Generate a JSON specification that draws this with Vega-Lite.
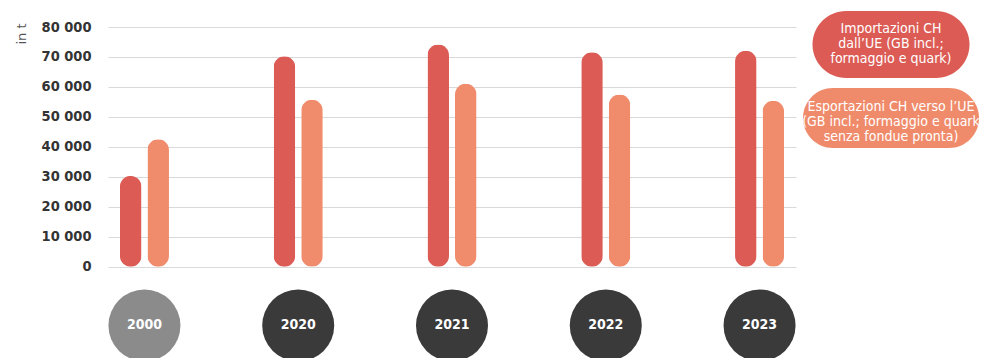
{
  "$schema": "https://vega.github.io/schema/vega-lite/v6.json",
  "background": "white",
  "padding": {"left": 15, "top": 10, "right": 0, "bottom": 0},
  "bounds": "flush",
  "spacing": 5,
  "config": {"view": {"stroke": null}, "font": "DejaVu Sans Condensed"},
  "datasets": {
    "trade": [
      {"year": "2000", "series": "Importazioni", "value": 30300},
      {"year": "2000", "series": "Esportazioni", "value": 42500},
      {"year": "2020", "series": "Importazioni", "value": 70200},
      {"year": "2020", "series": "Esportazioni", "value": 55700},
      {"year": "2021", "series": "Importazioni", "value": 74200},
      {"year": "2021", "series": "Esportazioni", "value": 61100},
      {"year": "2022", "series": "Importazioni", "value": 71600},
      {"year": "2022", "series": "Esportazioni", "value": 57500},
      {"year": "2023", "series": "Importazioni", "value": 72100},
      {"year": "2023", "series": "Esportazioni", "value": 55400}
    ],
    "years": [
      {"year": "2000"}, {"year": "2020"}, {"year": "2021"}, {"year": "2022"}, {"year": "2023"}
    ],
    "legend": [
      {"series": "Importazioni", "label": ["Importazioni CH", "dall’UE (GB incl.;", "formaggio e quark)"]},
      {"series": "Esportazioni", "label": ["Esportazioni CH verso l’UE", "(GB incl.; formaggio e quark", "senza fondue pronta)"]}
    ]
  },
  "hconcat": [
    {
      "width": 688,
      "height": 332,
      "layer": [
        {
          "data": {"name": "trade"},
          "mark": {"type": "bar", "cornerRadius": 10.75},
          "encoding": {
            "x": {"field": "year", "type": "nominal", "scale": {"paddingInner": 0.642, "paddingOuter": 0.058}, "axis": null},
            "xOffset": {"field": "series", "type": "nominal", "sort": ["Importazioni", "Esportazioni"], "scale": {"paddingInner": 0.218, "paddingOuter": 0.109}},
            "y": {
              "field": "value", "type": "quantitative",
              "scale": {"domain": [-30800, 80000], "nice": false, "zero": false},
              "axis": {
                "title": "in t",
                "values": [0, 10000, 20000, 30000, 40000, 50000, 60000, 70000, 80000],
                "labelExpr": "replace(format(datum.value, ','), ',', ' ')",
                "labelFont": "DejaVu Sans Condensed",
                "labelFontWeight": "bold",
                "labelFontSize": 14.5,
                "labelColor": "#333333",
                "labelPadding": 17,
                "ticks": false,
                "domain": false,
                "grid": true,
                "gridColor": "#d9d9d9",
                "gridWidth": 1,
                "titleFont": "DejaVu Sans",
                "titleFontSize": 13,
                "titleFontWeight": "normal",
                "titleColor": "#555555",
                "titleAngle": -90,
                "titleAlign": "right",
                "titleBaseline": "middle",
                "titleX": -87,
                "titleY": -4
              }
            },
            "color": {"field": "series", "type": "nominal", "scale": {"domain": ["Importazioni", "Esportazioni"], "range": ["#dc5c55", "#f08b6c"]}, "legend": null}
          }
        },
        {
          "data": {"name": "years"},
          "mark": {"type": "point", "filled": true, "opacity": 1, "size": 5184, "clip": true},
          "encoding": {
            "x": {"field": "year", "type": "nominal"},
            "y": {"datum": -19600, "type": "quantitative"},
            "color": {"condition": {"test": "datum.year === '2000'", "value": "#8b8b8b"}, "value": "#3a3a3a"}
          }
        },
        {
          "data": {"name": "years"},
          "mark": {"type": "text", "color": "white", "fontWeight": "bold", "fontSize": 14, "font": "DejaVu Sans Condensed", "baseline": "middle"},
          "encoding": {
            "x": {"field": "year", "type": "nominal"},
            "y": {"datum": -19600, "type": "quantitative"},
            "text": {"field": "year"}
          }
        }
      ]
    },
    {
      "width": 180,
      "height": 108.5,
      "data": {"name": "legend"},
      "encoding": {
        "y": {"field": "series", "type": "nominal", "scale": {"type": "point", "padding": 0.238, "domain": ["Importazioni", "Esportazioni"]}, "axis": null}
      },
      "layer": [
        {
          "transform": [{"filter": "datum.series === 'Importazioni'"}],
          "mark": {"type": "point", "filled": true, "opacity": 1, "size": 24649, "color": "#dc5c55", "shape": "M-0.5732,-0.4268 L0.5732,-0.4268 A0.4268,0.4268 0 0 1 0.5732,0.4268 L-0.5732,0.4268 A0.4268,0.4268 0 0 1 -0.5732,-0.4268 Z"}
        },
        {
          "transform": [{"filter": "datum.series === 'Esportazioni'"}],
          "mark": {"type": "point", "filled": true, "opacity": 1, "size": 30976, "color": "#ef8b6b", "shape": "M-0.6591,-0.3409 L0.6591,-0.3409 A0.3409,0.3409 0 0 1 0.6591,0.3409 L-0.6591,0.3409 A0.3409,0.3409 0 0 1 -0.6591,-0.3409 Z"}
        },
        {
          "transform": [{"filter": "datum.series === 'Importazioni'"}],
          "mark": {"type": "text", "color": "white", "fontSize": 14, "font": "DejaVu Sans Condensed", "lineHeight": 15, "baseline": "middle", "align": "center", "dy": -15},
          "encoding": {"text": {"field": "label"}}
        },
        {
          "transform": [{"filter": "datum.series === 'Esportazioni'"}],
          "mark": {"type": "text", "color": "white", "fontSize": 14, "font": "DejaVu Sans Condensed", "lineHeight": 15, "baseline": "middle", "align": "center", "dy": -11},
          "encoding": {"text": {"field": "label"}}
        }
      ]
    }
  ]
}
